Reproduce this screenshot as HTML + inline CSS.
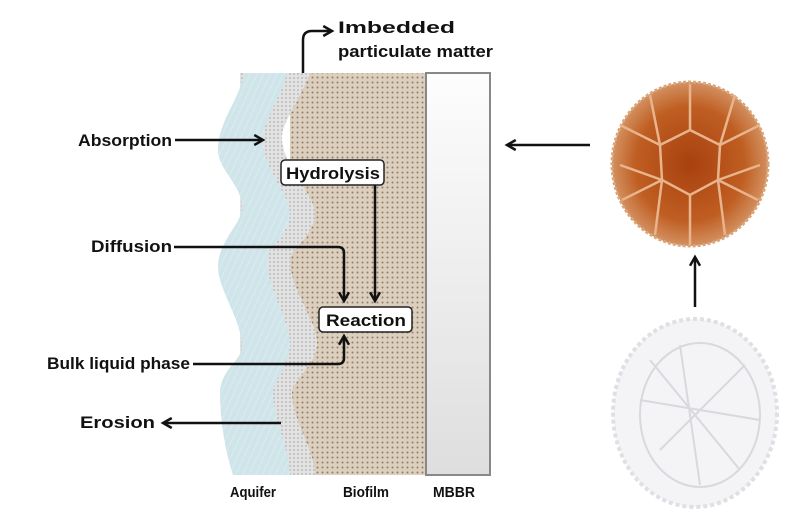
<!DOCTYPE html>
<html><head><meta charset="utf-8"><style>
body{margin:0;background:#fff}
svg{display:block}
text{font-family:"Liberation Sans","DejaVu Sans",sans-serif;font-weight:bold;fill:#111}
</style></head><body>
<svg width="800" height="530" viewBox="0 0 800 530" xmlns="http://www.w3.org/2000/svg">
<defs>
<pattern id="tan" width="5" height="5" patternUnits="userSpaceOnUse">
<rect width="5" height="5" fill="#dccfbd"/><circle cx="2.5" cy="2.5" r="1" fill="#8e7f6c"/></pattern>
<pattern id="gry" width="4" height="4" patternUnits="userSpaceOnUse">
<rect width="4" height="4" fill="#e2e2e2"/><circle cx="2" cy="2" r="0.9" fill="#b0b0b0"/></pattern>
<pattern id="blu" width="6" height="6" patternUnits="userSpaceOnUse" patternTransform="rotate(25)">
<rect width="6" height="6" fill="#cfe5ea"/><line x1="0" y1="0" x2="0" y2="6" stroke="#e4f1f3" stroke-width="1"/></pattern>
<linearGradient id="mb" x1="0" y1="0" x2="0" y2="1"><stop offset="0" stop-color="#fdfdfd"/><stop offset="1" stop-color="#dedede"/></linearGradient>
<radialGradient id="or" cx="0.5" cy="0.5" r="0.5"><stop offset="0" stop-color="#a8400f"/><stop offset="0.7" stop-color="#bf5e22"/><stop offset="1" stop-color="#d39060"/></radialGradient>
<marker id="ah" viewBox="0 0 10 10" refX="8" refY="5" markerWidth="5" markerHeight="5" orient="auto"><path d="M1,1 L8,5 L1,9" fill="none" stroke="#111" stroke-width="2"/></marker>
</defs>
<rect x="290" y="73" width="136" height="402" fill="url(#tan)"/>
<path d="M240,73 L310,73 C300,100 280,125 282,140 C285,170 315,195 315,213 C315,235 290,250 290,260 C290,290 317,320 317,343 C317,365 292,380 292,393 C292,420 315,450 315,475 L240,475 Z" fill="url(#gry)"/>
<path d="M243,73 L287,73 C280,100 263,120 263,140 C263,170 290,195 290,213 C290,235 267,245 267,260 C267,290 290,320 290,343 C290,365 273,380 273,393 C273,420 290,450 290,475 L233,475 C225,450 220,420 220,393 C220,370 242,360 242,347 C242,320 218,290 218,267 C218,240 242,225 242,207 C242,185 218,170 218,150 C218,120 243,95 243,73 Z" fill="url(#blu)"/>
<rect x="426" y="73" width="64" height="402" fill="url(#mb)" stroke="#888" stroke-width="2"/>
<path d="M303,73 L303,40 Q303,31 312,31 L332,31" fill="none" stroke="#111" stroke-width="2.5" marker-end="url(#ah)"/>
<text x="338" y="33" font-size="17" textLength="117" lengthAdjust="spacingAndGlyphs">Imbedded</text>
<text x="338" y="57" font-size="17" textLength="155" lengthAdjust="spacingAndGlyphs">particulate matter</text>
<text x="78" y="146" font-size="17" textLength="94" lengthAdjust="spacingAndGlyphs">Absorption</text>
<line x1="175" y1="140" x2="263" y2="140" stroke="#111" stroke-width="2.5" marker-end="url(#ah)"/>
<rect x="281" y="160" width="103" height="25" rx="4" fill="#fff" stroke="#222" stroke-width="1.5"/>
<text x="286" y="179" font-size="17" textLength="94" lengthAdjust="spacingAndGlyphs">Hydrolysis</text>
<line x1="375" y1="185" x2="375" y2="301" stroke="#111" stroke-width="2.5" marker-end="url(#ah)"/>
<text x="91" y="252" font-size="17" textLength="81" lengthAdjust="spacingAndGlyphs">Diffusion</text>
<path d="M174,247 L338,247 Q344,247 344,253 L344,301" fill="none" stroke="#111" stroke-width="2.5" marker-end="url(#ah)"/>
<rect x="319" y="307" width="93" height="25" rx="4" fill="#fff" stroke="#222" stroke-width="1.5"/>
<text x="326" y="326" font-size="17" textLength="80" lengthAdjust="spacingAndGlyphs">Reaction</text>
<text x="47" y="369" font-size="17" textLength="143" lengthAdjust="spacingAndGlyphs">Bulk liquid phase</text>
<path d="M193,364 L338,364 Q344,364 344,358 L344,336" fill="none" stroke="#111" stroke-width="2.5" marker-end="url(#ah)"/>
<text x="80" y="428" font-size="17" textLength="75" lengthAdjust="spacingAndGlyphs">Erosion</text>
<line x1="281" y1="423" x2="163" y2="423" stroke="#111" stroke-width="2.5" marker-end="url(#ah)"/>
<text x="230" y="497" font-size="15" textLength="46" lengthAdjust="spacingAndGlyphs">Aquifer</text>
<text x="343" y="497" font-size="15" textLength="46" lengthAdjust="spacingAndGlyphs">Biofilm</text>
<text x="433" y="497" font-size="15" textLength="42" lengthAdjust="spacingAndGlyphs">MBBR</text>
<line x1="590" y1="145" x2="507" y2="145" stroke="#111" stroke-width="2.5" marker-end="url(#ah)"/>
<line x1="695" y1="307" x2="695" y2="257" stroke="#111" stroke-width="2.5" marker-end="url(#ah)"/>
<ellipse cx="690" cy="164" rx="78" ry="82" fill="url(#or)" stroke="#d9a57a" stroke-width="3" stroke-dasharray="3 2"/>
<g fill="none" stroke="#e8b48c" stroke-width="2.5">
<path d="M690,130 L720,145 L718,180 L690,195 L662,180 L660,145 Z"/>
<path d="M690,130 L690,84 M720,145 L760,125 M718,180 L758,200 M690,195 L690,245 M662,180 L622,200 M660,145 L620,125"/>
<path d="M650,95 L660,145 M735,95 L720,145 M620,165 L662,180 M760,165 L718,180 M655,235 L662,180 M725,235 L718,180"/>
</g>
<ellipse cx="695" cy="413" rx="82" ry="94" fill="#f4f4f6" stroke="#e0e0e4" stroke-width="4" stroke-dasharray="4 3"/>
<g fill="none" stroke="#d8d8de" stroke-width="2">
<ellipse cx="700" cy="415" rx="60" ry="72"/>
<path d="M650,360 L740,470 M640,400 L760,420 M680,345 L700,485 M660,450 L745,365"/>
</g>
</svg>
</body></html>
